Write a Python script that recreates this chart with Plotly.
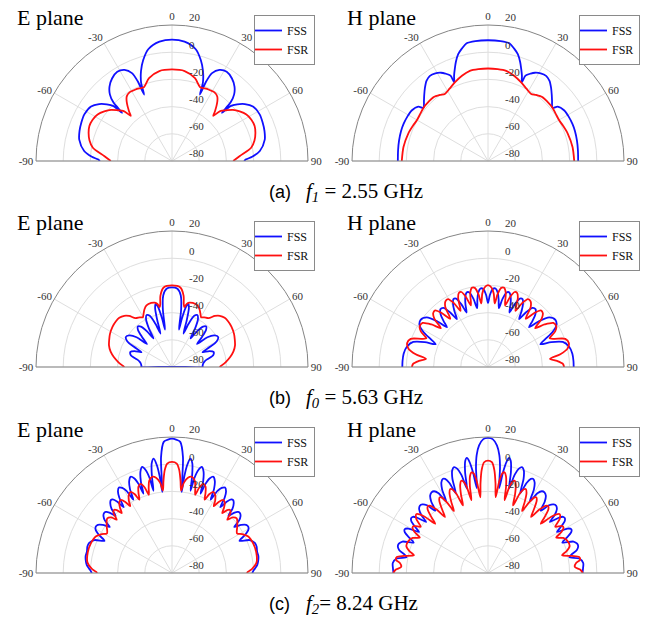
import plotly.graph_objects as go

# ---------------- radiation pattern data (angle in deg, gain in dB) ----------------
# (a) f1 = 2.55 GHz, E plane
E1_FSS_THETA = [-90, -88.7, -87, -83.5, -77, -72, -67, -62, -56, -52, -49, -46.8, -46, -45, -43, -40, -36, -31.5, -27.5, -24.5, -23.3, -22.8, -21.5, -19, -16, -12, -6,
                0, 6, 12, 16, 19, 21.5, 22.8, 23.3, 24.5, 27.5, 31.5, 36, 40, 43, 45, 46, 46.8, 49, 52, 56, 62, 67, 72, 77, 83.5, 87, 88.7, 90]
E1_FSS_DB = [-27, -25.5, -21, -15, -10, -8.5, -7.6, -7, -8.2, -12, -16.5, -21, -29, -19, -13, -8.5, -5, -3, -4.5, -9, -16, -27, -18, -10, -3, 4, 8.2,
             9.3, 8.2, 4, -3, -10, -18, -27, -16, -9, -4.5, -3, -5, -8.5, -13, -19, -29, -21, -16.5, -12, -8.2, -7, -7.6, -8.5, -10, -15, -21, -25.5, -27]
E1_FSR_THETA = [-90, -85.8, -80.5, -76, -71.4, -67, -62.5, -58, -53.8, -50, -47, -44, -42.4, -40.9, -37.3, -35, -32, -27, -24, -20.9, -15.5, -8,
                0, 8, 15.5, 20.9, 24, 27, 32, 35, 37.3, 40.9, 42.4, 44, 47, 50, 53.8, 58, 62.5, 67, 71.4, 76, 80.5, 85.8, 90]
E1_FSR_DB = [-35, -30, -21, -17.5, -15.3, -14, -14.2, -15.5, -18.3, -21.5, -25.3, -29, -35, -31.8, -25, -22, -20.7, -21, -21.5, -22, -16.8, -13.2,
             -12.7, -13.2, -16.8, -22, -21.5, -21, -20.7, -22, -25, -31.8, -35, -29, -25.3, -21.5, -18.3, -15.5, -14.2, -14, -15.3, -17.5, -21, -30, -35]

# (a) f1 = 2.55 GHz, H plane
H1_FSS_THETA = [-90, -83, -77, -71, -66.3, -61, -56.5, -52, -50.6, -46.7, -44, -40.8, -37.5, -34.3, -31, -28, -26, -23.7, -23.3, -21.7, -19.9, -18, -15.6, -13, -10.3, -6,
                0, 6, 10.3, 13, 15.6, 18, 19.9, 21.7, 23.3, 23.7, 26, 28, 31, 34.3, 37.5, 40.8, 44, 46.7, 50.6, 52, 56.5, 61, 66.3, 71, 77, 83, 90]
H1_FSS_DB = [-13.7, -13.4, -12.9, -12.4, -12.2, -12.3, -12.7, -15, -18.5, -15.3, -12.5, -9, -5.7, -4.2, -4.8, -6.5, -8.5, -11.5, -17, -12.5, -8.2, -3.5, 1.5, 5, 8, 8.7,
             8.8, 8.7, 8, 5, 1.5, -3.5, -8.2, -12.5, -17, -11.5, -8.5, -6.5, -4.8, -4.2, -5.7, -9, -12.5, -15.3, -18.5, -15, -12.7, -12.3, -12.2, -12.4, -12.9, -13.4, -13.7]
H1_FSR_THETA = [-90, -80.6, -71, -65, -60.4, -55, -50.6, -45, -40.7, -36, -32.8, -28, -22.9, -17, -11.4, -6,
                0, 6, 11.4, 17, 22.9, 28, 32.8, 36, 40.7, 45, 50.6, 55, 60.4, 65, 71, 80.6, 90]
H1_FSR_DB = [-16.6, -17, -18, -19, -19.7, -19.3, -18.5, -18.3, -18.3, -20, -21.4, -19.8, -17.3, -14.5, -12.4, -12.1,
             -12, -12.1, -12.4, -14.5, -17.3, -19.8, -21.4, -20, -18.3, -18.3, -18.5, -19.3, -19.7, -19, -18, -17, -16.6]

# (b) f0 = 5.63 GHz, E plane
E0_FSS_THETA = [-90, -90, -90, -88, -84, -81, -78, -74, -70, -67, -64, -62, -60, -57, -53.5, -50, -47.5, -45, -42.5, -40, -37.5, -35, -33, -31, -28.5, -26, -23.5, -21, -19, -17.5, -16, -14.5, -13, -11.5, -10.5, -9, -7, -4,
                0, 4, 7, 9, 10.5, 11.5, 13, 14.5, 16, 17.5, 19, 21, 23.5, 26, 28.5, 31, 33, 35, 37.5, 40, 42.5, 45, 47.5, 50, 53.5, 57, 60, 62, 64, 67, 70, 74, 78, 81, 84, 88, 90, 90, 90]
E0_FSS_DB = [-80, -70, -57.5, -57.5, -57, -56, -54, -48.5, -47.5, -50, -55, -48, -42, -39.5, -41, -46, -55, -49, -43, -41, -42.5, -48, -55, -47, -40, -37.5, -39, -46, -54, -44, -35, -32, -35, -44, -52, -37, -27, -22.3,
             -21.5, -22.3, -27, -37, -52, -44, -35, -32, -35, -44, -54, -46, -39, -37.5, -40, -47, -55, -48, -42.5, -41, -43, -49, -55, -46, -41, -39.5, -42, -48, -55, -50, -47.5, -48.5, -54, -56, -57, -57.5, -57.5, -70, -80]
E0_FSR_THETA = [-90, -88.8, -85, -80.3, -76, -71, -66, -61.9, -56, -51, -47, -43, -40, -36.8, -33, -30.4, -28, -25.5, -22.5, -18, -15, -13, -11.6, -10.6, -9.2, -6,
                0, 6, 9.2, 10.6, 11.6, 13, 15, 18, 22.5, 25.5, 28, 30.4, 33, 36.8, 40, 43, 47, 51, 56, 61.9, 66, 71, 76, 80.3, 85, 88.8, 90]
E0_FSR_DB = [-45, -44, -40.5, -36.6, -33.5, -31, -29.5, -28.3, -27.2, -26.8, -27, -28.5, -31, -35.2, -36.5, -37.6, -35.5, -33, -31, -30.5, -31, -32.5, -35, -33, -26.8, -21.2,
             -20, -21.2, -26.8, -33, -35, -32.5, -31, -30.5, -31, -33, -35.5, -37.6, -36.5, -35.2, -31, -28.5, -27, -26.8, -27.2, -28.3, -29.5, -31, -33.5, -36.6, -40.5, -44, -45]

# (b) f0 = 5.63 GHz, H plane
H0_FSS_THETA = [-90, -86, -81, -76, -71.5, -68.5, -66.5, -64, -61.5, -58.5, -55, -51, -48, -46, -44, -42, -39.5, -37, -34.8, -33, -31, -29, -27, -25, -23, -21.5, -19.8, -18, -16, -14, -12, -10.5, -9, -7.5, -5.5, -3.5, -1.5,
                0, 1.5, 3.5, 5.5, 7.5, 9, 10.5, 12, 14, 16, 18, 19.8, 21.5, 23, 25, 27, 29, 31, 33, 34.8, 37, 39.5, 42, 44, 46, 48, 51, 55, 58.5, 61.5, 64, 66.5, 68.5, 71.5, 76, 81, 86, 90]
H0_FSS_DB = [-17, -17, -17.2, -18.5, -22, -30, -38, -33, -26, -21, -19.5, -22, -30, -38, -33, -28, -25, -25.5, -31, -38, -32, -27, -24, -24.5, -30, -37, -31, -26, -23, -23.5, -29, -36, -30, -25, -22, -22.5, -27,
             -33, -27, -22.5, -22, -25, -30, -36, -29, -23.5, -23, -26, -31, -37, -30, -24.5, -24, -27, -32, -38, -31, -25.5, -25, -28, -33, -38, -30, -22, -19.5, -21, -26, -33, -38, -30, -22, -18.5, -17.2, -17, -17]
H0_FSR_THETA = [-90, -87.5, -85, -82.5, -80, -77, -73.5, -70, -67, -65, -62, -59, -56, -53, -50.5, -48, -45.5, -43, -40.5, -38, -35.5, -33, -30.5, -28, -26, -23.5, -21.5, -19.5, -17.5, -15.5, -13.5, -11.5, -9.5, -7.5, -6, -4.5, -2.5,
                0, 2.5, 4.5, 6, 7.5, 9.5, 11.5, 13.5, 15.5, 17.5, 19.5, 21.5, 23.5, 26, 28, 30.5, 33, 35.5, 38, 40.5, 43, 45.5, 48, 50.5, 53, 56, 59, 62, 65, 67, 70, 73.5, 77, 80, 82.5, 85, 87.5, 90]
H0_FSR_DB = [-24, -25, -29, -34, -26, -20, -18, -19.5, -27, -30, -24, -21.5, -22, -28, -35, -27, -23.5, -23, -28, -35, -26, -22.5, -22, -27, -34, -25, -21.5, -21.5, -26, -33, -24, -20.5, -21, -26, -33, -26, -21.5,
             -19.8, -21.5, -26, -33, -26, -21, -20.5, -24, -33, -26, -21.5, -21.5, -25, -34, -27, -22, -22.5, -26, -35, -28, -23, -23.5, -27, -35, -28, -22, -21.5, -24, -30, -27, -19.5, -18, -20, -26, -34, -29, -25, -24]

# (c) f2 = 8.24 GHz, E plane
E2_FSS_THETA = [-90, -89, -87, -84.5, -81.3, -79, -76, -72.6, -70, -67, -64.5, -62.5, -60.5, -58.7, -57, -55.2, -53.5, -52, -50.3, -48.7, -47.3, -46, -44.6, -43.2, -41.5, -40, -38.8, -37.5, -36.3, -35, -33.5, -31.8, -30.3, -29, -27.8, -26.6, -25, -23.3, -21.8, -20.6, -19.8, -18.8, -17.3, -15.7, -14.3, -13.3, -12.7, -11.8, -10.5, -9.1, -8, -7.3, -6.8, -6.1, -5.4, -3.6, -2,
                0, 2, 3.6, 5.4, 6.1, 6.8, 7.3, 8, 9.1, 10.5, 11.8, 12.7, 13.3, 14.3, 15.7, 17.3, 18.8, 19.8, 20.6, 21.8, 23.3, 25, 26.6, 27.8, 29, 30.3, 31.8, 33.5, 35, 36.3, 37.5, 38.8, 40, 41.5, 43.2, 44.6, 46, 47.3, 48.7, 50.3, 52, 53.5, 55.2, 57, 58.7, 60.5, 62.5, 64.5, 67, 70, 72.6, 76, 79, 81.3, 84.5, 87, 89, 90]
E2_FSS_DB = [-21, -20.5, -19, -17, -15.8, -15.3, -15.5, -14.8, -15.2, -18, -25, -19.5, -15.5, -14.4, -15, -18, -23, -17.5, -14.5, -13.4, -13.8, -16, -21, -15, -11.5, -10, -10.5, -14, -20, -12.5, -8, -6, -7.5, -11, -19, -11, -5.5, -3, -5, -10, -18, -9, -2, 1, -2, -8, -18, -8, 2, 5.2, 0, -8, -20, -8, 5.6, 16.6, 18,
             18.8, 18, 16.6, 5.6, -8, -20, -8, 0, 5.2, 2, -8, -18, -8, -2, 1, -2, -9, -18, -10, -5, -3, -5.5, -11, -19, -11, -7.5, -6, -8, -12.5, -20, -14, -10.5, -10, -11.5, -15, -21, -16, -13.8, -13.4, -14.5, -17.5, -23, -18, -15, -14.4, -15.5, -19.5, -25, -18, -15.2, -14.8, -15.5, -15.3, -15.8, -17, -19, -20.5, -21]
E2_FSR_THETA = [-90, -89, -87, -83, -76, -70, -64.4, -61, -58.6, -55, -52, -49.8, -47.5, -46, -44.3, -42.6, -41.3, -40, -38.7, -37, -35, -33.3, -32, -30.8, -29, -27, -25.3, -24, -22.8, -21.3, -19.4, -17.7, -16.5, -15.3, -13.8, -11.7, -9.5, -7.5, -6.3, -5.3, -4, -2.5,
                0, 2.5, 4, 5.3, 6.3, 7.5, 9.5, 11.7, 13.8, 15.3, 16.5, 17.7, 19.4, 21.3, 22.8, 24, 25.3, 27, 29, 30.8, 32, 33.3, 35, 37, 38.7, 40, 41.3, 42.6, 44.3, 46, 47.5, 49.8, 52, 55, 58.6, 61, 64.4, 70, 76, 83, 87, 89, 90]
E2_FSR_DB = [-25, -24, -21, -17.4, -16.2, -16.5, -17.8, -21, -24, -21.5, -19, -17.7, -19.5, -23.5, -18.5, -17, -18.5, -22.5, -19, -15.5, -14.4, -17.5, -22, -18, -14.5, -13, -16, -21, -16.5, -12, -10.5, -14, -20, -15, -10, -7.8, -9, -13, -19, -12, -4, 0.5,
             1.7, 0.5, -4, -12, -19, -13, -9, -7.8, -10, -15, -20, -14, -10.5, -12, -16.5, -21, -16, -13, -14.5, -18, -22, -17.5, -14.4, -15.5, -19, -22.5, -18.5, -17, -18.5, -23.5, -19.5, -17.7, -19, -21.5, -24, -21, -17.8, -16.5, -16.2, -17.4, -21, -24, -25]

# (c) f2 = 8.24 GHz, H plane
H2_FSS_THETA = [-90, -87, -84, -81, -79, -77.5, -75.5, -73.4, -71.8, -69.8, -67.8, -66, -64, -62.3, -60.8, -59.3, -57.8, -56, -54.5, -53.2, -52, -50.5, -49, -47.2, -45.4, -43.7, -42, -40.2, -38.5, -36.8, -35, -33.4, -31.8, -30.3, -28.8, -27.2, -25.7, -24.5, -23.2, -22, -20.7, -19.2, -17.8, -16.5, -15.2, -14, -12.8, -11.5, -10.4, -9.5, -8.5, -7.5, -6.5, -5.5, -4, -2,
                0, 2, 4, 5.5, 6.5, 7.5, 8.5, 9.5, 10.4, 11.5, 12.8, 14, 15.2, 16.5, 17.8, 19.2, 20.7, 22, 23.2, 24.5, 25.7, 27.2, 28.8, 30.3, 31.8, 33.4, 35, 36.8, 38.5, 40.2, 42, 43.7, 45.4, 47.2, 49, 50.5, 52, 53.2, 54.5, 56, 57.8, 59.3, 60.8, 62.3, 64, 66, 67.8, 69.8, 71.8, 73.4, 75.5, 77.5, 79, 81, 84, 87, 90]
H2_FSS_DB = [-10.5, -10, -9.6, -12, -19, -17, -12.5, -10.8, -11, -13, -21, -17, -12, -10.8, -13, -21, -17, -12, -10.6, -11, -14, -21, -15, -11, -9.6, -10.2, -13, -20, -13, -9, -7.6, -8, -11, -19, -10, -5, -3.2, -4, -8, -17, -6, 0, 1.8, 0, -5, -16, -4, 4, 6, 3, -5, -17, -2, 7, 14, 18.5,
             19.3, 18.5, 14, 7, -2, -17, -5, 3, 6, 4, -4, -16, -5, 0, 1.8, 0, -6, -17, -8, -4, -3.2, -5, -10, -19, -11, -8, -7.6, -9, -13, -20, -13, -10.2, -9.6, -11, -15, -21, -14, -11, -10.6, -12, -17, -21, -13, -10.8, -12, -17, -21, -13, -11, -10.8, -12.5, -17, -19, -12, -9.6, -10, -10.5]
H2_FSR_THETA = [-90, -88, -86, -83.5, -82, -80, -78.5, -76.5, -74.5, -71.8, -68, -65, -62.6, -60.8, -59, -57.5, -55.5, -53, -50.6, -48.5, -47, -45.5, -43.5, -41.8, -40.5, -39, -37.5, -36, -34, -32.6, -31.5, -30.2, -28.8, -27.5, -25.8, -24.3, -23.2, -21.8, -20.3, -19, -17.5, -16.2, -15.2, -14, -12.8, -11.8, -10.5, -9.3, -8.2, -7, -5.8, -4.8, -3.5, -2,
                0, 2, 3.5, 4.8, 5.8, 7, 8.2, 9.3, 10.5, 11.8, 12.8, 14, 15.2, 16.2, 17.5, 19, 20.3, 21.8, 23.2, 24.3, 25.8, 27.5, 28.8, 30.2, 31.5, 32.6, 34, 36, 37.5, 39, 40.5, 41.8, 43.5, 45.5, 47, 48.5, 50.6, 53, 55.5, 57.5, 59, 60.8, 62.6, 65, 68, 71.8, 74.5, 76.5, 78.5, 80, 82, 83.5, 86, 88, 90]
H2_FSR_DB = [-10.3, -12, -16, -14.8, -11.7, -12, -17, -24, -20, -16.8, -17, -19, -23.5, -18, -15.2, -15.5, -20, -14, -11.8, -17, -27, -22, -15.5, -13.8, -15, -20, -28, -23, -16, -14, -15, -20, -28, -22, -15, -12.3, -13, -17, -27, -19, -12, -9.4, -10, -14, -25, -15, -7.5, -5, -6, -12, -24, -14, -4, 1.5,
             2.7, 1.5, -4, -14, -24, -12, -6, -5, -7.5, -15, -25, -14, -10, -9.4, -12, -19, -27, -17, -13, -12.3, -15, -22, -28, -20, -15, -14, -16, -23, -28, -20, -15, -13.8, -15.5, -22, -27, -17, -11.8, -14, -20, -15.5, -15.2, -18, -23.5, -19, -17, -16.8, -20, -24, -17, -12, -11.7, -14.8, -16, -12, -10.3]

SERIES_NAMES = ["FSS", "FSR"]
ANGLE_TICKS = [-90, -60, -30, 0, 30, 60, 90]
ANGLE_LABELS = ["-90", "-60", "-30", "0", "30", "60", "90"]
RADIAL_TICKS = [-80, -60, -40, -20, 0, 20]
RADIAL_LABELS = ["-80", "-60", "-40", "-20", "0", "20"]
RADIAL_RANGE = [-80, 20]
PLANE_TITLES = ["E plane", "H plane"]
CAPTION_TAGS = ["(a)", "(b)", "(c)"]
CAPTION_TEXT = ["<i>f</i><sub><i>1</i></sub> = 2.55 GHz",
                "<i>f</i><sub><i>0</i></sub> = 5.63 GHz",
                "<i>f</i><sub><i>2</i></sub>= 8.24 GHz"]

PANELS = [
    (E1_FSS_THETA, E1_FSS_DB, E1_FSR_THETA, E1_FSR_DB),
    (H1_FSS_THETA, H1_FSS_DB, H1_FSR_THETA, H1_FSR_DB),
    (E0_FSS_THETA, E0_FSS_DB, E0_FSR_THETA, E0_FSR_DB),
    (H0_FSS_THETA, H0_FSS_DB, H0_FSR_THETA, H0_FSR_DB),
    (E2_FSS_THETA, E2_FSS_DB, E2_FSR_THETA, E2_FSR_DB),
    (H2_FSS_THETA, H2_FSS_DB, H2_FSR_THETA, H2_FSR_DB),
]

# ---------------- layout geometry (pixels) ----------------
W, H = 657, 620
R = 136
CENTERS_X = [172, 488]
CENTERS_Y = [161, 367, 573]
BLUE = "#1010ff"
RED = "#ff1010"
SERIF = "Liberation Serif"
SANS = "Liberation Sans"
GRID = "#dedede"
# radial labels sit just right of and above the 0-degree spoke
PAD_LEFT = "\u2003\u2002"
radial_text = [f"{PAD_LEFT}{t}<br>\u00a0" for t in RADIAL_LABELS]

fig = go.Figure()
layout_extra = {}

for i, (t1, r1, t2, r2) in enumerate(PANELS):
    row, col = divmod(i, 2)
    cx, cy = CENTERS_X[col], CENTERS_Y[row]
    pkey = "polar" if i == 0 else f"polar{i + 1}"
    lkey = "legend" if i == 0 else f"legend{i + 1}"
    for th, rr, name, color in ((t1, r1, SERIES_NAMES[0], BLUE), (t2, r2, SERIES_NAMES[1], RED)):
        fig.add_trace(go.Scatterpolar(
            theta=th, r=rr, mode="lines", name=name, subplot=pkey,
            legend=lkey,
            line=dict(color=color, width=1.8, shape="spline", smoothing=0.8),
            showlegend=True,
        ))
    layout_extra[pkey] = dict(
        domain=dict(x=[(cx - R) / W, (cx + R) / W], y=[(H - cy) / H, (H - cy + R) / H]),
        sector=[0, 180],
        bgcolor="white",
        angularaxis=dict(
            rotation=90, direction="clockwise", tickmode="array",
            tickvals=ANGLE_TICKS, ticktext=ANGLE_LABELS,
            showline=True, linecolor="#858585", linewidth=1,
            showgrid=True, gridcolor=GRID, gridwidth=1, ticks="",
            tickfont=dict(family=SERIF, size=11, color="#333333"),
        ),
        radialaxis=dict(
            range=RADIAL_RANGE, tickmode="array", tickvals=RADIAL_TICKS, ticktext=radial_text,
            angle=90, tickangle=90, showline=False, ticks="",
            showgrid=True, gridcolor=GRID, gridwidth=1,
            tickfont=dict(family=SERIF, size=11, color="#333333"),
        ),
    )
    legend_right = cx + (143 if col == 0 else 152)
    layout_extra[lkey] = dict(
        x=legend_right / W, y=1 - (cy - 146) / H, xanchor="right", yanchor="top",
        bgcolor="white", bordercolor="#8a8a8a", borderwidth=1,
        font=dict(family=SERIF, size=12, color="#111111"),
        tracegroupgap=0, itemwidth=30, indentation=-8,
    )

annotations = []
for row in range(3):
    for col in range(2):
        annotations.append(dict(
            text=PLANE_TITLES[col], x=(15 + 330 * col) / W, y=1 - (CENTERS_Y[row] - 144) / H,
            xref="paper", yref="paper", xanchor="left", yanchor="middle", showarrow=False,
            font=dict(family=SERIF, size=22, color="black"),
        ))
    cap_y = 1 - (CENTERS_Y[row] + 31) / H
    annotations.append(dict(
        text=CAPTION_TAGS[row], x=267 / W, y=cap_y, xref="paper", yref="paper",
        xanchor="left", yanchor="middle", showarrow=False,
        font=dict(family=SANS, size=18, color="black"),
    ))
    annotations.append(dict(
        text=CAPTION_TEXT[row], x=304 / W, y=cap_y, xref="paper", yref="paper",
        xanchor="left", yanchor="middle", showarrow=False,
        font=dict(family=SERIF, size=21, color="black"),
    ))

fig.update_layout(
    width=W, height=H, autosize=False,
    margin=dict(l=0, r=0, t=0, b=0, pad=0),
    paper_bgcolor="white", plot_bgcolor="white",
    annotations=annotations,
    **layout_extra,
)

fig.write_html("out.html")
